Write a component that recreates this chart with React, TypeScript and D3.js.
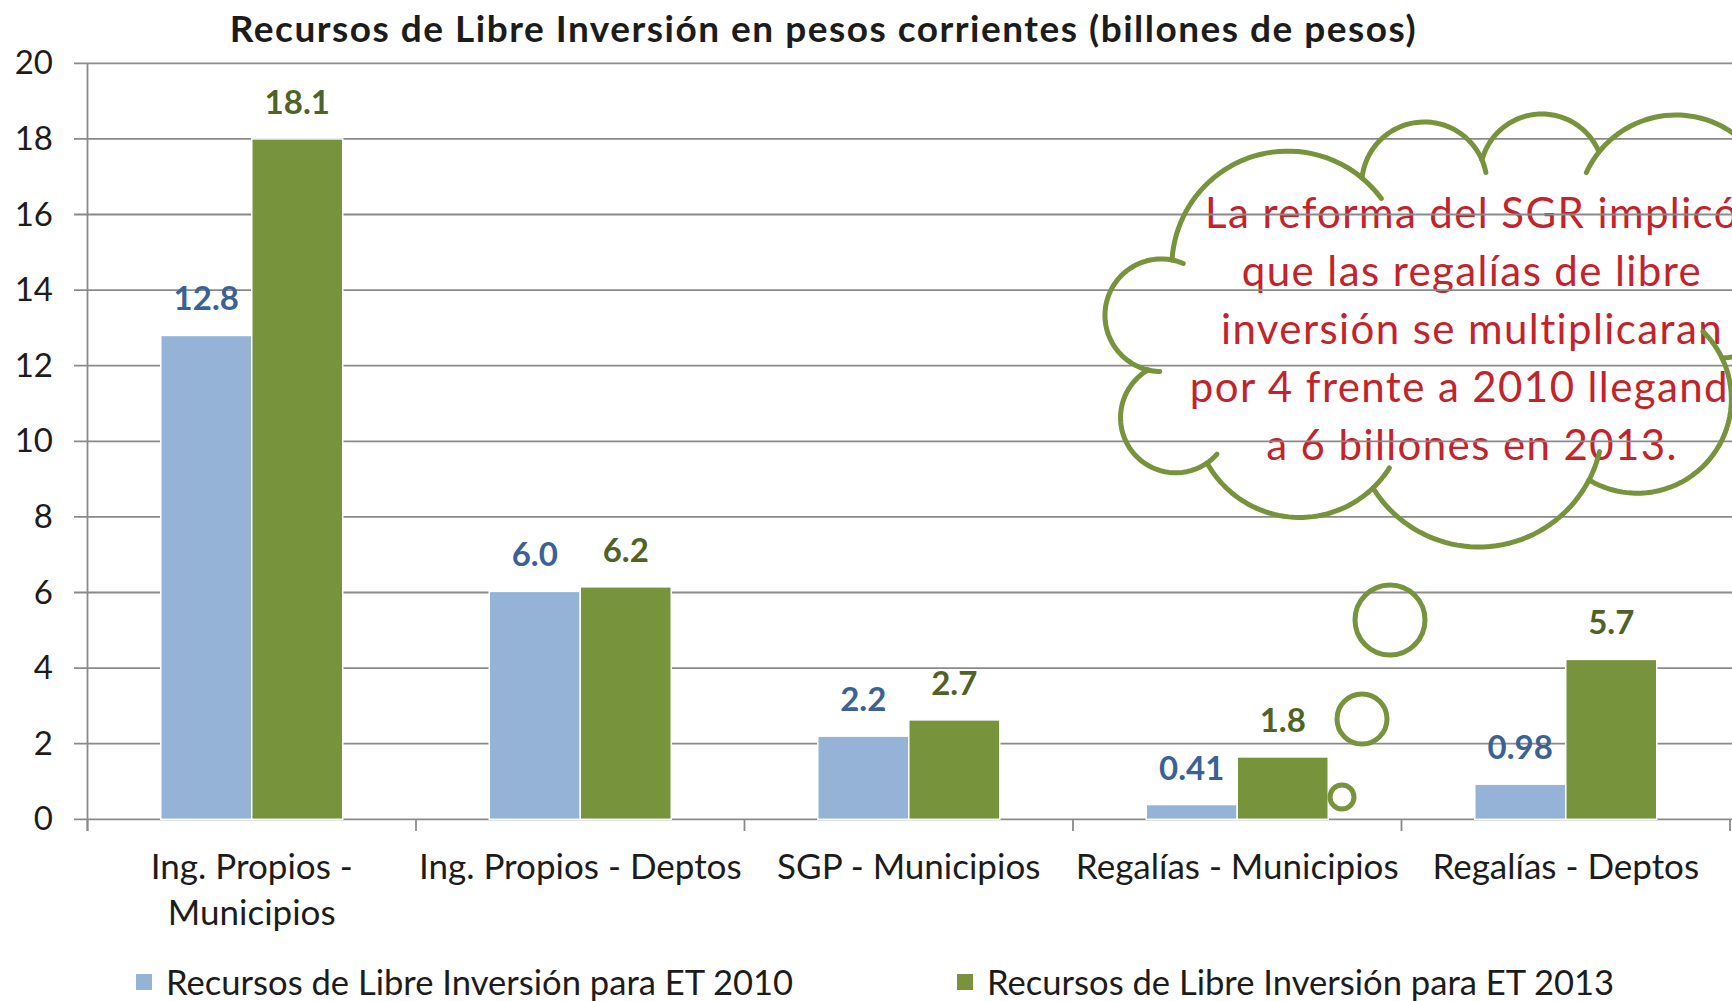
import React from "react";
import * as d3 from "d3";

// ---------------- data ----------------
const categories = [
  "Ing. Propios - Municipios",
  "Ing. Propios - Deptos",
  "SGP - Municipios",
  "Regalías - Municipios",
  "Regalías - Deptos",
];
const categoryLines = [
  ["Ing. Propios -", "Municipios"],
  ["Ing. Propios - Deptos"],
  ["SGP - Municipios"],
  ["Regalías - Municipios"],
  ["Regalías - Deptos"],
];
const seriesKeys = ["ET 2010", "ET 2013"];
const seriesNames = [
  "Recursos de Libre Inversión para ET 2010",
  "Recursos de Libre Inversión para ET 2013",
];
const values2010 = [12.8, 6.03, 2.2, 0.39, 0.93];
const values2013 = [18.0, 6.15, 2.63, 1.65, 4.23];
const labels2010 = ["12.8", "6.0", "2.2", "0.41", "0.98"];
const labels2013 = ["18.1", "6.2", "2.7", "1.8", "5.7"];
const yTicks = [0, 2, 4, 6, 8, 10, 12, 14, 16, 18, 20];
const chartTitle =
  "Recursos de Libre Inversión en pesos corrientes (billones de pesos)";
const calloutLines = [
  "La reforma del SGR implicó",
  "que las regalías de libre",
  "inversión se multiplicaran",
  "por 4 frente a 2010 llegando",
  "a 6 billones en 2013.",
];

// ---------------- layout / style ----------------
const W = 1732;
const H = 1001;
const FONT = "Lato, 'Open Sans', 'DejaVu Sans', sans-serif";
const barColors = ["#95B3D7", "#77933C"];
const labelColors = ["#3B6196", "#4F6228"];
const gridColor = "#8a8a8a";
const textColor = "#1c1c1c";
const cloudColor = "#77933C";
const cloudTextColor = "#C3232B";

type P = [number, number];

// cloud annotation outline: each segment is an arc through three points
const cloudSegments: { from: P; via: P; to: P; stubStart?: number; stubEnd?: number }[] = [
  { from: [1172, 260], via: [1262, 154], to: [1362, 178], stubEnd: 14 },
  { from: [1362, 178], via: [1422, 122], to: [1482, 160], stubEnd: 12 },
  { from: [1482, 160], via: [1540, 114], to: [1599, 152] },
  { from: [1599, 152], via: [1690, 116], to: [1768, 178], stubStart: 14 },
  { from: [1768, 178], via: [1815, 265], to: [1722, 358] },
  { from: [1722, 358], via: [1722, 440], to: [1589, 480], stubStart: 20 },
  { from: [1589, 480], via: [1480, 547], to: [1373, 488], stubStart: 14 },
  { from: [1373, 488], via: [1290, 517], to: [1207, 463], stubStart: 14 },
  { from: [1207, 463], via: [1122, 405], to: [1148, 370], stubStart: 14 },
  { from: [1148, 370], via: [1105, 313], to: [1172, 260], stubStart: 12, stubEnd: 12 },
];
const cloudBubbles: { c: P; r: number }[] = [
  { c: [1390, 620], r: 35 },
  { c: [1362, 719], r: 25 },
  { c: [1342, 797], r: 12 },
];

function circle3(a: P, b: P, c: P) {
  const [ax, ay] = a, [bx, by] = b, [cx, cy] = c;
  const d = 2 * (ax * (by - cy) + bx * (cy - ay) + cx * (ay - by));
  const ux =
    ((ax * ax + ay * ay) * (by - cy) + (bx * bx + by * by) * (cy - ay) + (cx * cx + cy * cy) * (ay - by)) / d;
  const uy =
    ((ax * ax + ay * ay) * (cx - bx) + (bx * bx + by * by) * (ax - cx) + (cx * cx + cy * cy) * (bx - ax)) / d;
  return { cx: ux, cy: uy, r: Math.hypot(ax - ux, ay - uy) };
}

function arcOf(s: P, v: P, e: P) {
  const { cx, cy, r } = circle3(s, v, e);
  const TAU = Math.PI * 2;
  const norm = (x: number) => ((x % TAU) + TAU) % TAU;
  const a1 = Math.atan2(s[1] - cy, s[0] - cx);
  const a2 = Math.atan2(v[1] - cy, v[0] - cx);
  const a3 = Math.atan2(e[1] - cy, e[0] - cx);
  const d13 = norm(a3 - a1);
  const d12 = norm(a2 - a1);
  const sweep = d12 < d13 ? d13 : -(TAU - d13);
  return { cx, cy, r, a1, sweep };
}

function sample(cx: number, cy: number, r: number, from: number, sweep: number, n = 40): P[] {
  const pts: P[] = [];
  for (let i = 0; i <= n; i++) {
    const a = from + (sweep * i) / n;
    pts.push([cx + r * Math.cos(a), cy + r * Math.sin(a)]);
  }
  return pts;
}

function buildCloud() {
  const outline: P[] = [];
  const stubs: P[][] = [];
  const deg = Math.PI / 180;
  cloudSegments.forEach((seg) => {
    const { cx, cy, r, a1, sweep } = arcOf(seg.from, seg.via, seg.to);
    const pts = sample(cx, cy, r, a1, sweep);
    outline.push(...pts);
    const sgn = Math.sign(sweep);
    if (seg.stubEnd) stubs.push(sample(cx, cy, r, a1 + sweep, sgn * seg.stubEnd * deg, 10));
    if (seg.stubStart) stubs.push(sample(cx, cy, r, a1, -sgn * seg.stubStart * deg, 10));
  });
  const line = d3.line();
  return {
    outline: (line(outline) || "") + "Z",
    stubs: stubs.map((s) => line(s) || ""),
  };
}

export default function App() {
  const plotLeft = 87.5;
  const plotRight = 1730;
  const plotTop = 63.3;
  const plotBottom = 819.3;

  const x = d3.scaleBand<string>().domain(categories).range([plotLeft, plotRight]);
  const xInner = d3
    .scaleBand<string>()
    .domain(seriesKeys)
    .range([0, x.bandwidth()])
    .paddingOuter(0.805);
  const y = d3.scaleLinear().domain([0, 20]).range([plotBottom, plotTop]);

  const seriesValues = [values2010, values2013];
  const seriesLabels = [labels2010, labels2013];
  const boundaries = [...categories.map((c) => x(c) as number), plotRight];
  const cloud = buildCloud();

  return (
    <svg
      width={W}
      height={H}
      viewBox={`0 0 ${W} ${H}`}
      style={{ position: "absolute", left: 0, top: 0, background: "#fff" }}
      fontFamily={FONT}
    >
      <rect x={0} y={0} width={W} height={H} fill="#fff" />

      {/* title */}
      <text
        x={823.5}
        y={42}
        textAnchor="middle"
        fontWeight="bold"
        fontSize={37}
        letterSpacing={1.5}
        fill={textColor}
      >
        {chartTitle}
      </text>

      {/* callout text (under the grid lines) */}
      {calloutLines.map((t, i) => (
        <text
          key={t}
          x={1472}
          y={228 + i * 58}
          textAnchor="middle"
          fontSize={42}
          letterSpacing={1.4}
          fill={cloudTextColor}
        >
          {t}
        </text>
      ))}

      {/* gridlines */}
      {yTicks.map((t) => (
        <line
          key={t}
          x1={74}
          x2={W}
          y1={y(t)}
          y2={y(t)}
          stroke={gridColor}
          strokeWidth={1.8}
        />
      ))}

      {/* y axis */}
      <line x1={plotLeft} x2={plotLeft} y1={y(20)} y2={831} stroke={gridColor} strokeWidth={1.8} />
      {boundaries.map((bx, i) => (
        <line key={i} x1={bx} x2={bx} y1={y(0)} y2={831} stroke={gridColor} strokeWidth={1.8} />
      ))}
      {yTicks.map((t) => (
        <text key={t} x={53} y={y(t) + 11} textAnchor="end" fontSize={33} fill={textColor}>
          {t}
        </text>
      ))}

      {/* bars */}
      {categories.map((c, ci) =>
        seriesKeys.map((s, si) => {
          const v = seriesValues[si][ci];
          const bx = (x(c) as number) + (xInner(s) as number);
          return (
            <rect
              key={c + s}
              x={bx}
              y={y(v)}
              width={xInner.bandwidth()}
              height={y(0) - y(v)}
              fill={barColors[si]}
              stroke="#ffffff"
              strokeWidth={1.5}
            />
          );
        })
      )}

      {/* value labels */}
      {categories.map((c, ci) =>
        seriesKeys.map((s, si) => {
          const v = seriesValues[si][ci];
          const cx = (x(c) as number) + (xInner(s) as number) + xInner.bandwidth() / 2;
          return (
            <text
              key={"l" + c + s}
              x={cx}
              y={y(v) - 25}
              textAnchor="middle"
              fontWeight="bold"
              fontSize={33}
              fill={labelColors[si]}
            >
              {seriesLabels[si][ci]}
            </text>
          );
        })
      )}

      {/* category labels */}
      {categories.map((c, ci) => (
        <text
          key={"c" + c}
          x={(x(c) as number) + x.bandwidth() / 2}
          y={879}
          textAnchor="middle"
          fontSize={35}
          fill={textColor}
        >
          {categoryLines[ci].map((ln, li) => (
            <tspan key={li} x={(x(c) as number) + x.bandwidth() / 2} dy={li === 0 ? 0 : 46}>
              {ln}
            </tspan>
          ))}
        </text>
      ))}

      {/* legend */}
      {seriesNames.map((n, i) => (
        <g key={n} transform={`translate(${i === 0 ? 136 : 957},0)`}>
          <rect x={0} y={974} width={16} height={16} fill={barColors[i]} />
          <text x={30} y={995} fontSize={34.6} fill={textColor}>
            {n}
          </text>
        </g>
      ))}

      {/* cloud callout */}
      <path d={cloud.outline} fill="none" stroke={cloudColor} strokeWidth={5} strokeLinejoin="round" />
      {cloud.stubs.map((d, i) => (
        <path key={i} d={d} fill="none" stroke={cloudColor} strokeWidth={5} strokeLinecap="round" />
      ))}
      {cloudBubbles.map((b, i) => (
        <circle key={i} cx={b.c[0]} cy={b.c[1]} r={b.r} fill="none" stroke={cloudColor} strokeWidth={5} />
      ))}
    </svg>
  );
}
